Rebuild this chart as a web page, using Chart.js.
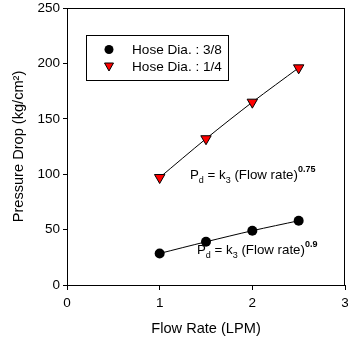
<!DOCTYPE html>
<html>
<head>
<meta charset="utf-8">
<script src="https://cdn.jsdelivr.net/npm/chart.js@4"></script>
<style>
  html, body { margin: 0; padding: 0; background: #fff; }
  #wrap { width: 348px; height: 344px; }
</style>
</head>
<body>
<div id="wrap"><canvas id="chart" width="348" height="344"></canvas></div>
<script>
const flowRate = [1, 1.5, 2, 2.5];
const hose38 = [28.5, 39, 49, 58];
const hose14 = [97, 132, 165, 196];
const xTicks = [0, 1, 2, 3];
const yTicks = [0, 50, 100, 150, 200, 250];
const seriesNames = ["Hose Dia. : 3/8", "Hose Dia. : 1/4"];

const FONT = "Arial, 'Liberation Sans', sans-serif";

function toPoints(xs, ys) {
  return xs.map((x, i) => ({ x, y: ys[i] }));
}

function drawEquation(ctx, x, y, exp) {
  ctx.save();
  ctx.fillStyle = "#000";
  ctx.textBaseline = "alphabetic";
  ctx.textAlign = "left";
  const big = "13.3px " + FONT;
  const small = "9px " + FONT;
  const parts = [
    ["P", big, 0],
    ["d", small, 4],
    [" = k", big, 0],
    ["3", small, 4],
    [" (Flow rate)", big, 0],
    [exp, "bold 9px " + FONT, -7],
  ];
  let cx = x;
  parts.forEach(([t, f, dy]) => {
    ctx.font = f;
    ctx.fillText(t, cx, y + dy);
    cx += ctx.measureText(t).width;
  });
  ctx.restore();
}

const decorations = {
  id: "decorations",
  afterDraw(chart) {
    const { ctx, chartArea } = chart;
    ctx.save();
    // frame
    ctx.strokeStyle = "#000";
    ctx.lineWidth = 1;
    ctx.strokeRect(chartArea.left + 0.5, chartArea.top + 0.5,
      chartArea.right - chartArea.left - 1, chartArea.bottom - chartArea.top);

    // legend box
    ctx.fillStyle = "#fff";
    ctx.fillRect(86.5, 35.5, 142, 45);
    ctx.strokeRect(86.5, 35.5, 142, 45);
    ctx.fillStyle = "#000";
    ctx.beginPath();
    ctx.arc(109, 49.5, 4.5, 0, Math.PI * 2);
    ctx.fill();
    ctx.beginPath();
    ctx.moveTo(104.5, 63);
    ctx.lineTo(113.5, 63);
    ctx.lineTo(109, 71);
    ctx.closePath();
    ctx.fillStyle = "#f00";
    ctx.fill();
    ctx.strokeStyle = "#000";
    ctx.stroke();
    ctx.fillStyle = "#000";
    ctx.font = "13.6px " + FONT;
    ctx.textBaseline = "middle";
    ctx.fillText(seriesNames[0], 132, 50);
    ctx.fillText(seriesNames[1], 132, 67);
    ctx.restore();

    drawEquation(ctx, 190, 179, "0.75");
    drawEquation(ctx, 197, 254, "0.9");
  }
};

new Chart(document.getElementById("chart"), {
  type: "scatter",
  data: {
    datasets: [
      {
        label: seriesNames[0],
        data: toPoints(flowRate, hose38),
        showLine: true,
        borderColor: "#000",
        borderWidth: 1,
        tension: 0.3,
        pointStyle: "circle",
        pointRadius: 5,
        pointBackgroundColor: "#000",
        pointBorderColor: "#000",
        pointBorderWidth: 0,
      },
      {
        label: seriesNames[1],
        data: toPoints(flowRate, hose14),
        showLine: true,
        borderColor: "#000",
        borderWidth: 1,
        tension: 0.3,
        pointStyle: "triangle",
        pointRotation: 180,
        pointRadius: 6,
        pointBackgroundColor: "#f00",
        pointBorderColor: "#000",
        pointBorderWidth: 1,
      },
    ],
  },
  options: {
    responsive: false,
    animation: false,
    layout: { autoPadding: false, padding: { left: 0, top: 8, right: 3, bottom: 0 } },
    plugins: { legend: { display: false }, tooltip: { enabled: false } },
    scales: {
      x: {
        type: "linear",
        min: 0,
        max: 3,
        afterFit: (s) => { s.height = 59; s.paddingLeft = 0; s.paddingRight = 0; },
        afterBuildTicks: (s) => { s.ticks = xTicks.map((v) => ({ value: v })); },
        grid: { drawOnChartArea: false, drawTicks: true, tickLength: 5, color: "#000" },
        border: { display: true, color: "#000", width: 1 },
        ticks: { color: "#000", font: { family: FONT, size: 13.5 }, padding: 5 },
        title: {
          display: true,
          text: "Flow Rate (LPM)",
          color: "#000",
          font: { family: FONT, size: 14.6 },
          padding: { top: 0, bottom: 6 },
        },
      },
      y: {
        type: "linear",
        min: 0,
        max: 250,
        afterFit: (s) => { s.width = 67; s.paddingTop = 0; s.paddingBottom = 0; },
        afterBuildTicks: (s) => { s.ticks = yTicks.map((v) => ({ value: v })); },
        grid: { drawOnChartArea: false, drawTicks: true, tickLength: 4, color: "#000" },
        border: { display: true, color: "#000", width: 1 },
        ticks: { color: "#000", font: { family: FONT, size: 13.5 }, padding: 3 },
        title: {
          display: true,
          text: "Pressure Drop (kg/cm²)",
          color: "#000",
          font: { family: FONT, size: 14.6 },
          padding: { top: 10, bottom: 0 },
        },
      },
    },
  },
  plugins: [decorations],
});
</script>
</body>
</html>
